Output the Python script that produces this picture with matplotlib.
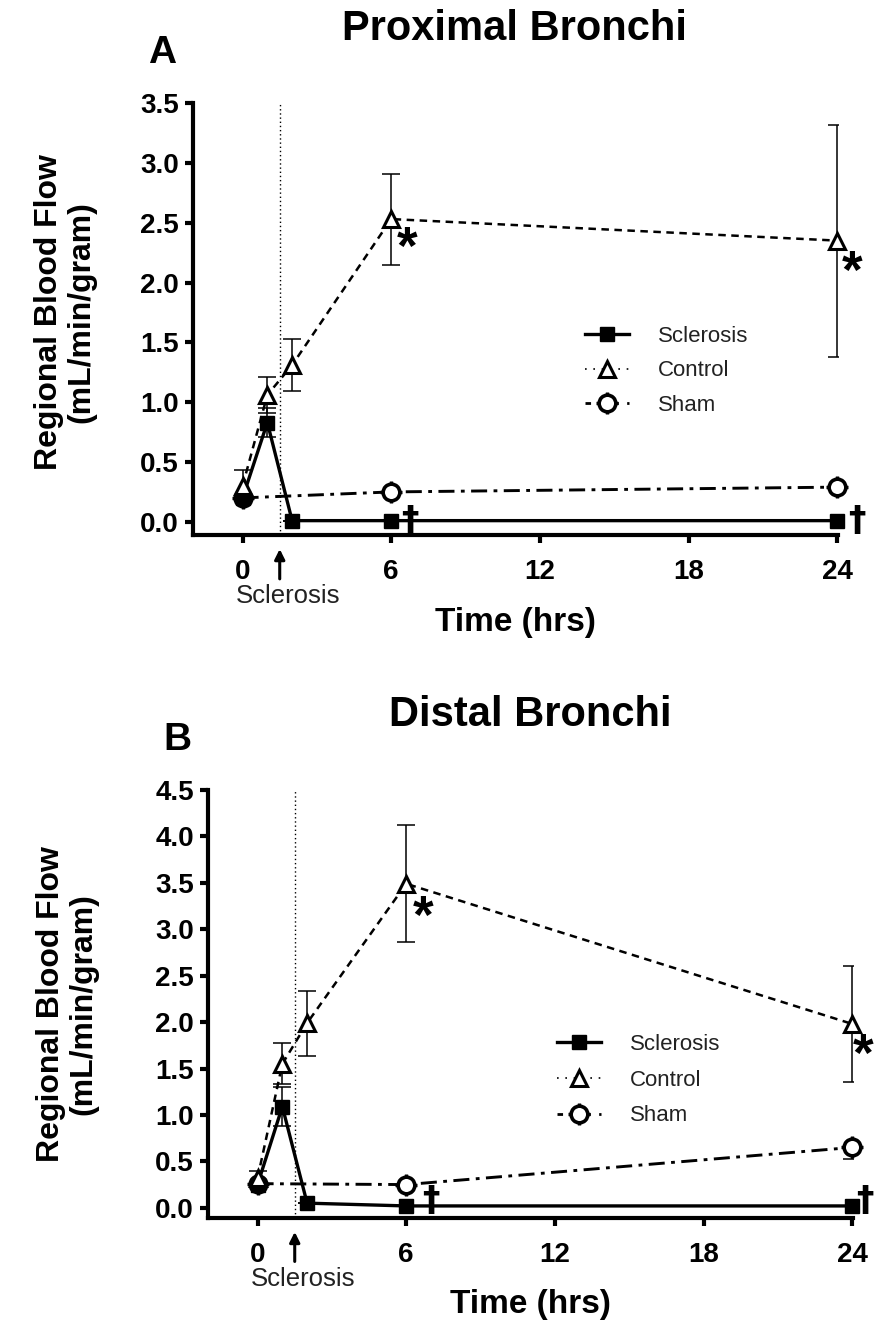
import numpy as np
import matplotlib
matplotlib.use('Agg')
import matplotlib.pyplot as plt
from matplotlib.lines import Line2D

plt.rcParams['font.family'] = ['Liberation Sans', 'DejaVu Sans']

# ---- data ----
hours = [0, 1, 2, 6, 24]
sham_hours = [0, 6, 24]
tick_hours = [0, 6, 12, 18, 24]
sclerosis_time = 1.5

# panel A - proximal bronchi
scl_a = [0.20, 0.83, 0.01, 0.01, 0.01]
scl_a_err = [0.0, 0.12, 0.0, 0.0, 0.0]
ctl_a = [0.30, 1.06, 1.31, 2.53, 2.35]
ctl_a_err = [0.13, 0.15, 0.22, 0.38, 0.97]
sham_a = [0.20, 0.25, 0.29]
sham_a_err = [0.0, 0.0, 0.0]
yticks_a = [0.0, 0.5, 1.0, 1.5, 2.0, 2.5, 3.0, 3.5]
stars_a = [(6.65, 2.27), (24.6, 2.07)]
daggers_a = [(6.75, 0.01), (24.8, 0.01)]

# panel B - distal bronchi
scl_b = [0.25, 1.09, 0.05, 0.02, 0.02]
scl_b_err = [0.0, 0.21, 0.0, 0.0, 0.0]
ctl_b = [0.32, 1.55, 1.99, 3.49, 1.98]
ctl_b_err = [0.08, 0.22, 0.35, 0.63, 0.62]
sham_b = [0.26, 0.25, 0.65]
sham_b_err_lo = [0.0, 0.0, 0.12]
sham_b_err_hi = [0.0, 0.0, 0.0]
yticks_b = [0.0, 0.5, 1.0, 1.5, 2.0, 2.5, 3.0, 3.5, 4.0, 4.5]
stars_b = [(6.7, 3.11), (24.45, 1.63)]
daggers_b = [(7.0, 0.07), (24.5, 0.07)]

W, H = 874, 1325
fig = plt.figure(figsize=(W / 100, H / 100), dpi=100)


def px_axes(left, right, top, bottom):
    return fig.add_axes([left / W, 1 - bottom / H, (right - left) / W, (bottom - top) / H])


CTL_DASH = (0, (3, 2.2))
SHAM_DASH = (0, (5.5, 2.2, 1.3, 2.2))


def sham_marker(ax, x, y):
    # open circle with little cross ticks
    ax.plot(x, y, '+', ms=16, mew=2.4, color='k', clip_on=False, zorder=5)
    ax.plot(x, y, 'o', ms=12, mfc='white', mec='k', mew=2.6, clip_on=False, zorder=6)


def draw_panel(ax, scl, scl_err, ctl, ctl_err, sham, sham_err, yticks, stars, daggers):
    top = yticks[-1]
    ax.set_xlim(-2, 24.03)
    ax.set_ylim(-0.11 * top / 3.5 if top < 4 else -0.11, top)

    ax.axvline(sclerosis_time, color='k', lw=1, ls=(0, (1, 2)), zorder=1)

    # error bars (clipped at the axis edge like the original)
    ekw = dict(fmt='none', ecolor='k', elinewidth=1.1, capsize=6.5, capthick=1.1, zorder=2)
    ax.errorbar(hours, ctl, yerr=ctl_err, **ekw)
    ax.errorbar(hours, scl, yerr=scl_err, **ekw)
    ax.errorbar(sham_hours, sham, yerr=sham_err, **ekw)

    ax.plot(hours, ctl, color='k', lw=1.8, ls=CTL_DASH, zorder=3, clip_on=False)
    ax.plot(sham_hours, sham, color='k', lw=2.1, ls=SHAM_DASH, zorder=3, clip_on=False)
    ax.plot(hours, scl, color='k', lw=2.4, zorder=4, clip_on=False)

    ax.plot(hours, scl, 's', ms=10, color='k', zorder=7, clip_on=False)
    ax.plot(hours, ctl, '^', ms=12, mfc='white', mec='k', mew=2.2, zorder=7, clip_on=False)
    sham_marker(ax, sham_hours, sham)

    for x, y in stars:
        ax.text(x, y, '*', fontsize=38, fontweight='bold', ha='center', va='center',
                clip_on=False, zorder=8)
    for x, y in daggers:
        ax.text(x, y, '\u2020', fontsize=25, fontweight='bold', ha='center', va='center',
                family='DejaVu Sans', clip_on=False, zorder=8)

    for s in ['top', 'right']:
        ax.spines[s].set_visible(False)
    for s in ['left', 'bottom']:
        ax.spines[s].set_linewidth(3)
        ax.spines[s].set_capstyle('projecting')
    ax.set_xticks(tick_hours)
    ax.set_yticks(yticks)
    ax.set_yticklabels([f'{v:.1f}' for v in yticks])
    ax.tick_params(axis='both', direction='out', length=6, width=3, labelsize=20)
    ax.tick_params(axis='y', pad=4)
    ax.tick_params(axis='x', pad=11)
    for lab in ax.get_xticklabels() + ax.get_yticklabels():
        lab.set_fontweight('bold')

    # arrow marking time of sclerosis
    tr = ax.get_xaxis_transform()
    ax.annotate('', xy=(sclerosis_time, -0.026), xycoords=tr,
                xytext=(sclerosis_time, -0.108), textcoords=tr,
                arrowprops=dict(arrowstyle='-|>', lw=2.2, color='k', mutation_scale=15),
                annotation_clip=False)
    ax.text(sclerosis_time + 0.35, -0.142, 'Sclerosis', transform=tr, ha='center', va='center',
            fontsize=18.5, color='#222222')


def legend(ax, left_px, top_px, ls_em):
    h_scl = Line2D([], [], color='k', lw=2.4, marker='s', ms=10)
    h_ctl = Line2D([], [], color='k', lw=1.2, ls=(0, (1, 4)), marker='^', ms=12, mfc='white', mew=2.2)
    h_sham_a = Line2D([], [], color='k', lw=2.0, ls=(0, (2, 3)), marker='+', ms=16, mew=2.4)
    h_sham_b = Line2D([], [], ls='none', marker='o', ms=12, mfc='white', mec='k', mew=2.6)
    leg = ax.legend([h_scl, h_ctl, (h_sham_a, h_sham_b)], ['Sclerosis', 'Control', 'Sham'],
                    loc='upper left', bbox_to_anchor=(left_px / W, 1 - top_px / H),
                    bbox_transform=fig.transFigure, frameon=False, fontsize=16,
                    handlelength=2.0, handletextpad=1.3, labelspacing=ls_em,
                    borderpad=0, borderaxespad=0)
    for t in leg.get_texts():
        t.set_color('#222222')


# ---- panel A ----
axA = px_axes(193, 838, 103, 535)
draw_panel(axA, scl_a, scl_a_err, ctl_a, ctl_a_err, sham_a, sham_a_err, yticks_a, stars_a, daggers_a)
legend(axA, 585, 326, 0.6)
fig.text(515 / W, 1 - 29 / H, 'Proximal Bronchi', ha='center', va='center', fontsize=30, fontweight='bold')
fig.text(162 / W, 1 - 53 / H, 'A', ha='center', va='center', fontsize=28, fontweight='bold')
fig.text(515 / W, 1 - 622 / H, 'Time (hrs)', ha='center', va='center', fontsize=24, fontweight='bold')
fig.text(65 / W, 1 - 312 / H, 'Regional Blood Flow\n(mL/min/gram)', ha='center', va='center',
         rotation=90, fontsize=23, fontweight='bold', linespacing=1.1)

# ---- panel B ----
axB = px_axes(208, 853, 790, 1218)
draw_panel(axB, scl_b, scl_b_err, ctl_b, ctl_b_err, sham_b, [sham_b_err_lo, sham_b_err_hi],
           yticks_b, stars_b, daggers_b)
legend(axB, 557, 1034, 0.66)
fig.text(530 / W, 1 - 715 / H, 'Distal Bronchi', ha='center', va='center', fontsize=30, fontweight='bold')
fig.text(177 / W, 1 - 740 / H, 'B', ha='center', va='center', fontsize=28, fontweight='bold')
fig.text(530 / W, 1 - 1305 / H, 'Time (hrs)', ha='center', va='center', fontsize=24, fontweight='bold')
fig.text(67 / W, 1 - 1004 / H, 'Regional Blood Flow\n(mL/min/gram)', ha='center', va='center',
         rotation=90, fontsize=23, fontweight='bold', linespacing=1.1)

fig.savefig('out.png', dpi=100)
